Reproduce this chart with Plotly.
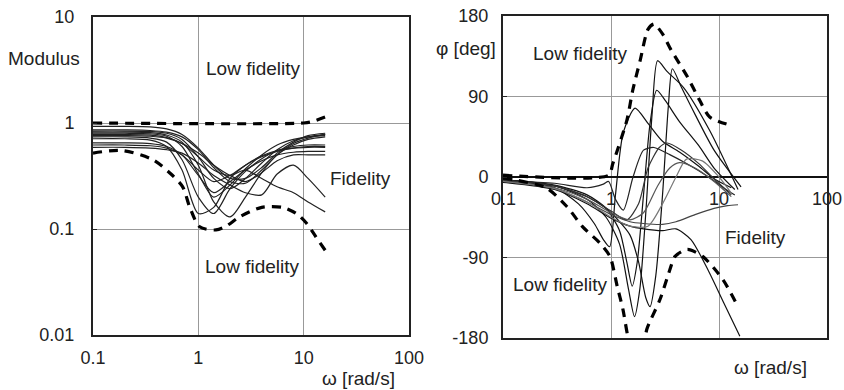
import math
import plotly.graph_objects as go

# ---------------- data: modulus (left) ----------------
mod_w = [0.1, 0.2, 0.35, 0.5, 0.7, 1.0, 1.4, 2.0, 2.8, 4.0, 5.6, 8.0, 11.0, 16.0]
mod_1 = [0.93, 0.93, 0.92, 0.88, 0.78, 0.58, 0.40, 0.30, 0.30, 0.38, 0.52, 0.66, 0.76, 0.80]
mod_2 = [0.84, 0.84, 0.83, 0.80, 0.70, 0.48, 0.30, 0.24, 0.30, 0.42, 0.56, 0.68, 0.74, 0.78]
mod_3 = [0.80, 0.80, 0.79, 0.75, 0.60, 0.33, 0.20, 0.26, 0.37, 0.50, 0.62, 0.70, 0.74, 0.76]
mod_4 = [0.74, 0.74, 0.72, 0.66, 0.45, 0.20, 0.14, 0.24, 0.35, 0.46, 0.55, 0.60, 0.62, 0.62]
mod_5 = [0.71, 0.71, 0.69, 0.60, 0.36, 0.14, 0.16, 0.30, 0.40, 0.49, 0.55, 0.58, 0.59, 0.59]
mod_6 = [0.65, 0.65, 0.64, 0.60, 0.50, 0.32, 0.22, 0.28, 0.36, 0.44, 0.50, 0.53, 0.54, 0.54]
mod_7 = [0.59, 0.59, 0.58, 0.56, 0.52, 0.42, 0.32, 0.26, 0.22, 0.21, 0.33, 0.40, 0.30, 0.20]
mod_8 = [0.78, 0.78, 0.77, 0.73, 0.64, 0.48, 0.36, 0.32, 0.36, 0.30, 0.25, 0.22, 0.18, 0.145]
mod_9 = [0.82, 0.82, 0.81, 0.77, 0.66, 0.40, 0.18, 0.13, 0.20, 0.34, 0.50, 0.62, 0.70, 0.74]
mod_10 = [0.76, 0.76, 0.75, 0.72, 0.64, 0.52, 0.40, 0.32, 0.28, 0.34, 0.44, 0.50, 0.50, 0.50]
mod_11 = [0.62, 0.62, 0.61, 0.58, 0.50, 0.36, 0.28, 0.32, 0.40, 0.48, 0.54, 0.58, 0.60, 0.60]
mod_12 = [0.86, 0.86, 0.85, 0.82, 0.74, 0.56, 0.38, 0.28, 0.27, 0.36, 0.50, 0.64, 0.72, 0.78]
mod_series = [mod_1, mod_2, mod_3, mod_4, mod_5, mod_6, mod_7, mod_8, mod_9, mod_10, mod_11, mod_12]

mod_up_w = [0.1, 10.0, 12.0, 16.0]
mod_up = [1.0, 1.0, 1.03, 1.14]
mod_lo_w = [0.1, 0.19, 0.37, 0.55, 0.71, 0.83, 1.03, 1.47, 1.85, 2.46, 4.0, 6.3, 8.5, 10.6, 13.0, 16.0]
mod_lo = [0.52, 0.55, 0.45, 0.33, 0.25, 0.16, 0.105, 0.098, 0.107, 0.13, 0.16, 0.16, 0.14, 0.114, 0.085, 0.063]

# ---------------- data: phase (right) ----------------
ph_w_1 = [0.1, 0.3, 0.6, 0.9, 1.2, 1.45, 1.65, 1.85, 2.1, 2.4, 2.7, 3.3, 4.7, 8.2, 15.0]
ph_1 = [-3, -10, -25, -45, -75, -125, -156, -125, -40, 70, 130, 118, 100, 52, -14]
ph_w_2 = [0.1, 0.3, 0.6, 0.9, 1.2, 1.5, 1.8, 2.1, 2.3, 2.6, 3.0, 3.4, 3.7, 4.5, 6.0, 9.0, 16.0]
ph_2 = [-4, -10, -22, -35, -50, -65, -95, -135, -145, -110, -20, 80, 121, 100, 70, 30, -11]
ph_w_3 = [0.1, 0.3, 0.5, 0.7, 0.85, 0.97, 1.1, 1.3, 1.67, 2.2, 3.0, 4.3, 6.5, 9.0, 13.0]
ph_3 = [-3, -12, -30, -52, -70, -78, -20, 50, 77, 60, 40, 28, 12, -2, -12]
ph_w_4 = [0.1, 0.3, 0.6, 0.9, 1.2, 1.4, 1.57, 1.75, 2.0, 2.3, 2.65, 3.2, 4.3, 6.5, 9.0, 14.0]
ph_4 = [-3, -9, -20, -35, -60, -95, -122, -95, -20, 60, 97, 85, 62, 35, 10, -14]
ph_w_5 = [0.1, 0.3, 0.6, 0.85, 0.95, 1.1, 1.3, 1.6, 2.0, 2.5, 3.5, 5.0, 8.0, 12.0, 14.0]
ph_5 = [-4, -7, -12, -8, -5, -25, -37, 0, 30, 33, 25, 15, 0, -15, -20]
ph_w_6 = [0.1, 0.3, 0.6, 1.0, 1.4, 1.8, 2.2, 2.8, 3.3, 4.5, 6.5, 9.0, 13.0]
ph_6 = [-4, -10, -22, -38, -48, -30, 10, 33, 38, 30, 15, -2, -20]
ph_w_7 = [0.1, 0.3, 0.6, 1.0, 1.5, 2.0, 2.7, 3.5, 4.3, 6.0, 9.0, 13.0]
ph_7 = [-5, -12, -25, -40, -48, -40, -10, 10, 16, 10, -5, -22]
ph_w_8 = [0.1, 0.3, 0.6, 1.0, 1.5, 2.0, 3.0, 4.0, 6.0, 9.0, 12.0, 15.0]
ph_8 = [-5, -13, -28, -42, -50, -52, -53, -50, -42, -35, -32, -31]
ph_w_9 = [0.1, 0.3, 0.6, 1.0, 1.5, 2.0, 3.0, 4.0, 5.5, 8.0, 11.0, 15.6]
ph_9 = [-6, -14, -30, -46, -55, -58, -60, -58, -70, -105, -140, -178]
ph_w_10 = [0.1, 0.3, 0.6, 1.0, 1.5, 2.2, 3.0, 4.0, 5.0, 7.0, 10.0, 13.0]
ph_10 = [-5, -13, -28, -45, -55, -55, -30, 0, 20, 18, 0, -18]
ph_series = [(ph_w_1, ph_1), (ph_w_2, ph_2), (ph_w_3, ph_3), (ph_w_4, ph_4), (ph_w_5, ph_5),
             (ph_w_6, ph_6), (ph_w_7, ph_7), (ph_w_8, ph_8), (ph_w_9, ph_9), (ph_w_10, ph_10)]
ph_colors = ["#111", "#111", "#111", "#111", "#222", "#333", "#555", "#444", "#111", "#777"]

ph_up_w = [0.1, 0.95, 1.04, 1.4, 1.59, 1.86, 2.2, 2.5, 3.0, 3.6, 5.1, 6.6, 8.2, 12.6]
ph_up = [2, 2, 15, 63, 97, 130, 165, 171, 160, 142, 112, 86, 67, 58]
ph_lo_w = [0.1, 0.25, 0.39, 0.55, 0.79, 0.98, 1.14, 1.29, 1.43, 1.7, 2.0, 2.15, 2.84, 3.5, 3.9, 5.1, 7.1, 10.9, 15.0]
ph_lo = [-1, -12, -33, -56, -74, -89, -122, -148, -178, -212, -190, -170, -137, -104, -89, -81, -89, -115, -145]

mod_ticks = [0.1, 1, 10, 100]
mod_ticktext = ["0.1", "1", "10", "100"]
mod_yticks = [0.01, 0.1, 1, 10]
mod_yticktext = ["0.01", "0.1", "1", "10"]
ph_xticks = [0.1, 1, 10, 100]
ph_xticktext = ["0.1", "1", "10", "100"]
ph_yticks = [-180, -90, 0, 90, 180]
ph_yticktext = ["-180", "-90", "0", "90", "180"]

FONT = "Liberation Sans, Arial, sans-serif"
TXT = "#222"
W, H = 844, 390

def fx(p):
    return p / W

def fy(p):
    return 1 - p / H

fig = go.Figure()

for s in mod_series:
    fig.add_trace(go.Scatter(x=mod_w, y=s, mode="lines", xaxis="x", yaxis="y",
                             line=dict(color="#222", width=1.2, shape="spline", smoothing=0.8),
                             showlegend=False, hoverinfo="skip"))
for wx, wy in [(mod_up_w, mod_up), (mod_lo_w, mod_lo)]:
    fig.add_trace(go.Scatter(x=wx, y=wy, mode="lines", xaxis="x", yaxis="y",
                             line=dict(color="#000", width=3.2, dash="9px,7px", shape="spline", smoothing=0.8),
                             showlegend=False, hoverinfo="skip"))

for (wx, wy), c in zip(ph_series, ph_colors):
    fig.add_trace(go.Scatter(x=wx, y=wy, mode="lines", xaxis="x2", yaxis="y2",
                             line=dict(color=c, width=1.2, shape="spline", smoothing=0.7),
                             showlegend=False, hoverinfo="skip"))
for wx, wy in [(ph_up_w, ph_up), (ph_lo_w, ph_lo)]:
    fig.add_trace(go.Scatter(x=wx, y=wy, mode="lines", xaxis="x2", yaxis="y2",
                             line=dict(color="#000", width=3.2, dash="9px,7px", shape="spline", smoothing=0.7),
                             showlegend=False, hoverinfo="skip"))

axis_common = dict(showline=True, mirror=True, linecolor="#222", linewidth=2,
                   showgrid=True, gridcolor="#999", gridwidth=1, zeroline=False,
                   automargin=False,
                   tickfont=dict(family=FONT, size=18, color=TXT))

annotations = []
def txt(x, y, s, xref="paper", yref="paper", xanchor="center", yshift=0, size=19):
    annotations.append(dict(x=x, y=y, xref=xref, yref=yref, text=s, showarrow=False,
                            xanchor=xanchor, yanchor="middle", yshift=yshift,
                            font=dict(family=FONT, size=size, color=TXT)))

# left in-plot labels (log axes: use log10 of data coords)
txt(math.log10(3.33), math.log10(3.3), "Low fidelity", "x", "y")
txt(math.log10(35), math.log10(0.30), "Fidelity", "x", "y")
txt(math.log10(3.26), math.log10(0.044), "Low fidelity", "x", "y")
# right in-plot labels
txt(math.log10(0.52), 138, "Low fidelity", "x2", "y2")
txt(math.log10(22), -68, "Fidelity", "x2", "y2")
txt(math.log10(0.34), -120, "Low fidelity", "x2", "y2")
# right x tick labels sitting on zero line
for v, t in zip(ph_xticks, ph_xticktext):
    txt(math.log10(v), 0, t, "x2", "y2", yshift=-22, size=18)
# axis titles
txt(fx(44), fy(58), "Modulus")
txt(fx(466), fy(48), "φ [deg]")
txt(fx(358), fy(378), "ω [rad/s]")
txt(fx(770), fy(367), "ω [rad/s]")

fig.update_layout(
    width=W, height=H, autosize=False,
    margin=dict(l=0, r=0, t=0, b=0, pad=0, autoexpand=False),
    paper_bgcolor="white", plot_bgcolor="white",
    showlegend=False,
    xaxis=dict(axis_common, type="log", range=[-1, 2], domain=[fx(93), fx(409)],
               anchor="y", tickvals=mod_ticks, ticktext=mod_ticktext,
               ticks="", ticklabelstandoff=5),
    yaxis=dict(axis_common, type="log", range=[-2, 1], domain=[fy(335), fy(17)],
               anchor="x", tickvals=mod_yticks, ticktext=mod_yticktext,
               ticks="inside", ticklen=4, tickcolor="#222", ticklabelstandoff=13),
    xaxis2=dict(axis_common, type="log", range=[-1, 2], domain=[fx(503), fx(827)],
                anchor="y2", tickvals=ph_xticks, showticklabels=False, ticks=""),
    yaxis2=dict(axis_common, range=[-180, 180], domain=[fy(338), fy(16)],
                anchor="x2", tickvals=ph_yticks, ticktext=ph_yticktext,
                zeroline=True, zerolinecolor="#111",
                zerolinewidth=2, ticks="inside", ticklen=4, tickcolor="#222",
                ticklabelstandoff=9),
    annotations=annotations,
)

fig.write_html("out.html", config={"responsive": False, "displayModeBar": False},
               post_script="document.body.style.margin='0';document.body.style.overflow='hidden';document.documentElement.style.overflow='hidden';")
